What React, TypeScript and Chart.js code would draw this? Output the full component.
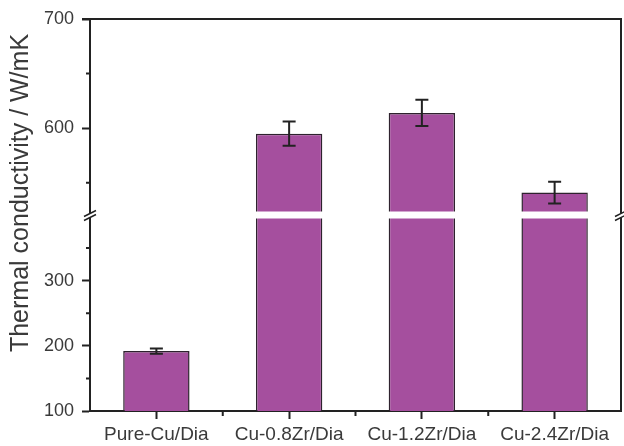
import React, { useEffect, useRef } from 'react';
import { Chart, registerables } from 'chart.js';

Chart.register(...registerables);

const categories = ['Pure-Cu/Dia', 'Cu-0.8Zr/Dia', 'Cu-1.2Zr/Dia', 'Cu-2.4Zr/Dia'];
const conductivity = [192, 595, 614, 541];
const errors = [4, 11, 12, 10];
const lowerRange = [100, 400];
const upperRange = [520, 700];
const lowerTicks = [100, 200, 300];
const lowerMinorTicks = [150, 250, 350];
const upperTicks = [600, 700];
const upperMinorTicks = [550, 650];
const yTitle = 'Thermal conductivity / W/mK';

const AXIS = '#222222';
const TEXT = '#3a3a3a';
const BAR = '#a54f9e';
const BAR_BORDER = '#2e222e';
const FONT = 'Liberation Sans';

const decorPlugin = {
  id: 'decor',
  afterDatasetsDraw(chart: any) {
    const ctx = chart.ctx;
    const yUp = chart.scales.yUp;
    const yLow = chart.scales.yLow;
    const x = chart.scales.x;
    ctx.save();
    ctx.strokeStyle = AXIS;
    ctx.lineWidth = 2;
    conductivity.forEach((v, i) => {
      const s = v > lowerRange[1] ? yUp : yLow;
      const cx = x.getPixelForValue(i);
      const y1 = s.getPixelForValue(v - errors[i]);
      const y2 = s.getPixelForValue(v + errors[i]);
      ctx.beginPath();
      ctx.moveTo(cx, y1);
      ctx.lineTo(cx, y2);
      ctx.moveTo(cx - 6.5, y1);
      ctx.lineTo(cx + 6.5, y1);
      ctx.moveTo(cx - 6.5, y2);
      ctx.lineTo(cx + 6.5, y2);
      ctx.stroke();
    });
    ctx.restore();
  },
  afterDraw(chart: any) {
    const ctx = chart.ctx;
    const area = chart.chartArea;
    const yUp = chart.scales.yUp;
    const yLow = chart.scales.yLow;
    const x = chart.scales.x;
    ctx.save();
    ctx.strokeStyle = AXIS;
    ctx.lineWidth = 2;
    ctx.beginPath();
    ctx.moveTo(area.left - 8, area.top);
    ctx.lineTo(area.right + 1, area.top);
    ctx.moveTo(area.right, area.top);
    ctx.lineTo(area.right, area.bottom + 1);
    ctx.stroke();
    ctx.beginPath();
    upperMinorTicks.forEach((v) => {
      const py = yUp.getPixelForValue(v);
      ctx.moveTo(area.left - 4, py);
      ctx.lineTo(area.left, py);
    });
    lowerMinorTicks.forEach((v) => {
      const py = yLow.getPixelForValue(v);
      ctx.moveTo(area.left - 4, py);
      ctx.lineTo(area.left, py);
    });
    for (let i = 0; i < categories.length - 1; i++) {
      const px = (x.getPixelForValue(i) + x.getPixelForValue(i + 1)) / 2;
      ctx.moveTo(px, area.bottom);
      ctx.lineTo(px, area.bottom + 5);
    }
    ctx.stroke();
    const breakY = yUp.bottom;
    ctx.fillStyle = '#ffffff';
    ctx.fillRect(area.left + 1, breakY - 4, area.right - area.left - 2, 7);
    [area.left, area.right].forEach((ax) => {
      ctx.fillStyle = '#ffffff';
      ctx.fillRect(ax - 2, breakY - 2, 4, 4);
      ctx.strokeStyle = AXIS;
      ctx.lineWidth = 1.5;
      ctx.beginPath();
      ctx.moveTo(ax - 6, breakY + 1);
      ctx.lineTo(ax + 6, breakY - 5);
      ctx.moveTo(ax - 6, breakY + 5);
      ctx.lineTo(ax + 6, breakY - 1);
      ctx.stroke();
    });
    ctx.fillStyle = TEXT;
    ctx.font = `25px "${FONT}"`;
    ctx.textAlign = 'center';
    ctx.textBaseline = 'middle';
    ctx.translate(21, 193);
    ctx.rotate(-Math.PI / 2);
    ctx.fillText(yTitle, 0, 0);
    ctx.restore();
  },
};

export default function App() {
  const ref = useRef<HTMLCanvasElement>(null);
  useEffect(() => {
    document.body.style.margin = '0';
    const canvas = ref.current!;
    const tickFont = { family: FONT, size: 18 };
    const barStyle = {
      backgroundColor: BAR,
      borderColor: BAR_BORDER,
      borderWidth: 1.5,
      barPercentage: 0.5,
      categoryPercentage: 1,
      grouped: false,
    };
    const chart = new Chart(canvas, {
      type: 'bar',
      data: {
        labels: categories,
        datasets: [
          { ...barStyle, data: conductivity.map((v) => Math.min(v, lowerRange[1])), yAxisID: 'yLow' },
          { ...barStyle, data: conductivity.map((v) => (v > upperRange[0] ? v : null)), yAxisID: 'yUp' },
        ],
      },
      options: {
        animation: false,
        responsive: false,
        maintainAspectRatio: false,
        layout: { padding: { top: 19, right: 3, left: 0, bottom: 0 } },
        plugins: { legend: { display: false }, tooltip: { enabled: false } },
        scales: {
          x: {
            type: 'category',
            offset: true,
            grid: { display: true, drawOnChartArea: false, offset: false, tickLength: 8, tickWidth: 2, tickColor: AXIS },
            border: { display: true, color: AXIS, width: 2 },
            ticks: { color: TEXT, font: { family: FONT, size: 19 }, padding: 4, maxRotation: 0, autoSkip: false },
            afterFit: (s: any) => { s.height = 35; },
          },
          yLow: {
            type: 'linear',
            position: 'left',
            stack: 'y',
            stackWeight: 195,
            min: lowerRange[0],
            max: lowerRange[1],
            afterBuildTicks: (s: any) => { s.ticks = lowerTicks.map((v) => ({ value: v })); },
            grid: { drawOnChartArea: false, tickLength: 8, tickWidth: 2, tickColor: AXIS },
            border: { display: true, color: AXIS, width: 2 },
            ticks: { color: TEXT, font: tickFont, padding: 8 },
            afterFit: (s: any) => { s.width = 90; },
          },
          yUp: {
            type: 'linear',
            position: 'left',
            stack: 'y',
            stackWeight: 196,
            min: upperRange[0],
            max: upperRange[1],
            afterBuildTicks: (s: any) => { s.ticks = upperTicks.map((v) => ({ value: v })); },
            grid: { drawOnChartArea: false, tickLength: 8, tickWidth: 2, tickColor: AXIS },
            border: { display: true, color: AXIS, width: 2 },
            ticks: { color: TEXT, font: tickFont, padding: 8 },
            afterFit: (s: any) => { s.width = 90; },
          },
        },
      } as any,
      plugins: [decorPlugin],
    });
    return () => chart.destroy();
  }, []);
  return <canvas ref={ref} width={624} height={446} style={{ display: 'block' }} />;
}
